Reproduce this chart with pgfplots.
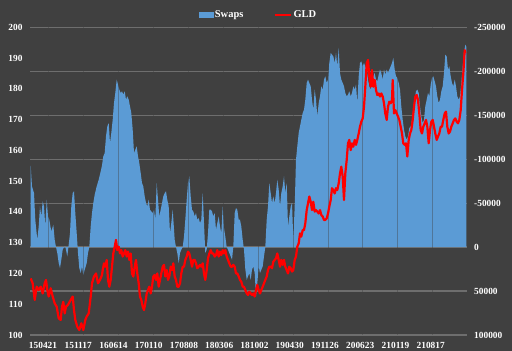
\documentclass[border=0pt]{standalone}
\usepackage{fontspec}
\setmainfont{Liberation Serif}
\usepackage{pgfplots}
\usepackage{pgfplotstable}
\pgfplotsset{compat=1.18}
\definecolor{bg}{HTML}{404040}
\definecolor{gridc}{HTML}{6E6E6E}
\definecolor{swapblue}{HTML}{5B9BD5}
\definecolor{gldred}{HTML}{FF0000}

\pgfplotstableread{
x y
30.7 0
30.7 -92600
32.0 -69100
34.0 -61500
35.3 -31100
37.3 -8300
38.7 -23500
40.0 -46300
41.3 -34900
42.7 -52000
44.0 -46300
45.3 -23500
46.7 -53900
48.0 -34900
49.3 -31100
51.3 -17800
53.3 -25400
54.7 -8300
56.0 0
57.3 6800
58.7 18200
60.0 23900
61.3 14400
62.7 3000
64.0 0
65.3 -800
67.3 10600
68.7 -2700
70.0 -15900
71.3 -46300
72.7 -61500
74.0 -63400
75.3 -38700
76.7 -15900
78.0 6800
79.3 23900
80.7 29600
82.0 22000
83.3 31500
84.7 25800
86.7 18200
88.0 6800
89.3 0
90.7 -23500
92.0 -38700
93.3 -50100
94.7 -59600
96.7 -69100
98.7 -76600
100.7 -86100
102.0 -93000
103.3 -103200
104.7 -107000
106.0 -126000
107.3 -137300
108.7 -141100
110.0 -118400
111.3 -129800
112.7 -144900
114.0 -163900
115.3 -175300
116.7 -190500
118.0 -184800
119.3 -179100
120.7 -175300
122.0 -177200
123.3 -173400
124.7 -177200
126.0 -167700
127.3 -171500
128.7 -167700
130.0 -160100
131.3 -152500
132.7 -133600
134.0 -107000
135.3 -110800
136.7 -114600
138.0 -103200
139.3 -95600
140.7 -84200
142.0 -72800
143.3 -69100
144.7 -57700
146.0 -50100
147.3 -46300
148.7 -53900
150.0 -42500
151.3 -40600
152.7 -38700
154.0 -42500
155.3 -31100
156.7 -72800
158.0 -53900
159.3 -34900
160.7 -42500
162.0 -50100
163.3 -57700
164.7 -61500
166.0 -63400
167.3 -53900
168.7 -46300
170.0 -15900
171.3 -27300
172.7 -42500
174.7 -8300
176.0 0
177.3 6800
178.7 18200
180.0 6800
181.3 3000
182.7 0
184.0 -12100
185.3 -31100
186.7 -53900
188.0 -72800
189.3 -80400
190.7 -57700
192.0 -42500
193.3 -40600
194.7 -34900
196.0 -38700
197.3 -31100
198.7 -33000
200.0 -27300
201.3 -31100
202.7 -61500
204.0 -27300
205.3 6800
206.7 3000
208.0 -15900
209.3 -42500
210.7 -42500
212.0 -40600
213.3 -34900
214.7 -38700
216.0 -19700
217.3 -27300
218.7 -34900
220.0 -23500
221.3 -15900
222.7 -46300
224.0 -21600
225.3 -12100
226.7 0
228.0 3000
229.3 6800
230.7 10600
232.0 14400
233.3 0
234.7 -38700
236.0 -44400
237.3 -42500
238.7 -31100
240.0 -31100
241.3 -23500
242.7 -8300
244.0 3000
245.3 25000
246.7 37200
248.0 33400
249.3 29600
250.7 37200
252.0 25800
253.3 22000
254.7 29600
256.0 56200
257.3 41000
258.7 22000
260.0 29600
261.3 25800
262.7 22000
264.0 10600
265.3 0
266.7 -31100
268.0 -46300
269.3 -72800
270.7 -61500
272.0 -50100
273.3 -57700
274.7 -50100
276.0 -61500
277.3 -76600
278.7 -65300
280.0 -46300
281.3 -61500
282.7 -69100
284.0 -80400
285.3 -61500
286.7 -72800
288.0 -23500
289.3 -34900
290.7 -46300
292.0 -50100
293.3 -8300
294.7 -46300
296.0 -99400
297.3 -114600
298.7 -129800
300.0 -137300
301.3 -144900
302.7 -152500
304.0 -156300
305.3 -167700
306.7 -186700
308.0 -190500
309.3 -186700
310.7 -182900
312.0 -167700
313.3 -156300
314.7 -179100
316.0 -167700
317.3 -148700
318.7 -163900
320.0 -171500
321.3 -182900
322.7 -179100
324.0 -190500
325.3 -194300
326.7 -186700
328.0 -190500
329.3 -209400
330.7 -220800
332.0 -218900
333.3 -217000
334.7 -209400
336.0 -220800
337.3 -205600
338.7 -226500
340.0 -198000
341.3 -190500
342.7 -186700
344.0 -182900
345.3 -175300
346.7 -171500
348.0 -173400
349.3 -177200
350.7 -171500
352.0 -175300
353.3 -182900
354.7 -179100
356.0 -184800
357.3 -163900
358.7 -194300
360.0 -209400
361.3 -211300
362.7 -205600
364.0 -209400
365.3 -205600
366.7 -201800
368.0 -190500
369.3 -182900
370.7 -179100
372.0 -190500
373.3 -194300
374.7 -198000
376.0 -190500
377.3 -188600
378.7 -196200
380.0 -201800
381.3 -198000
382.7 -190500
384.0 -201800
385.3 -196200
386.7 -201800
388.0 -198000
389.3 -201800
390.7 -205600
392.0 -209400
393.3 -215100
394.7 -201800
396.0 -194300
397.3 -192400
398.7 -186700
400.0 -179100
401.3 -160100
402.7 -144900
404.0 -133600
405.3 -126000
406.7 -122200
408.0 -126000
409.3 -135400
410.7 -137300
412.0 -144900
413.3 -156300
414.7 -167700
416.0 -177200
417.3 -179100
418.7 -175300
420.0 -160100
421.3 -148700
422.7 -141100
424.0 -144900
425.3 -160100
426.7 -167700
428.0 -175300
429.3 -171500
430.7 -184800
432.0 -192400
433.3 -194300
434.7 -188600
436.0 -182900
437.3 -171500
438.7 -163900
440.0 -167700
441.3 -177200
442.7 -182900
444.0 -198000
445.3 -218900
446.7 -217000
448.0 -201800
449.3 -205600
450.7 -194300
452.0 -186700
453.3 -182900
454.7 -190500
456.0 -182900
457.3 -171500
458.7 -167700
460.0 -171500
461.3 -186700
462.7 -205600
464.0 -220800
465.3 -230300
466.3 -228000
466.3 0
}\swaps

\pgfplotstableread{
x y
30.7 118.4
32.7 116.8
34.7 111.4
36.7 115.7
38.7 114.6
40.7 115.7
42.7 113.5
44.7 116.8
46.0 117.9
47.3 114.6
48.7 112.5
50.7 115.2
52.7 112.5
54.7 110.3
56.7 109.2
58.7 105.4
60.7 104.9
62.0 109.2
63.3 110.8
64.7 107.0
66.0 109.2
68.0 109.8
70.7 111.4
72.7 112.5
74.0 108.1
75.3 104.9
77.3 102.7
79.3 101.6
81.3 103.8
83.3 101.6
85.3 104.9
86.7 106.0
88.7 107.0
90.7 112.5
92.0 116.8
94.0 119.0
96.0 120.0
98.0 116.8
100.0 117.9
102.0 119.5
102.7 121.1
104.0 123.3
105.3 122.2
106.7 124.4
108.0 117.9
109.3 115.7
110.7 117.9
112.0 122.2
113.3 126.5
114.7 128.7
116.0 130.9
117.3 127.6
118.7 128.7
120.0 126.5
121.3 127.6
122.7 125.5
124.0 126.5
125.3 127.6
126.7 125.5
128.0 127.1
129.3 124.4
130.7 126.5
132.0 120.0
133.3 119.0
134.7 122.2
136.0 124.4
137.3 120.0
138.7 116.8
140.0 112.5
141.3 111.4
142.7 109.2
144.0 108.1
145.3 110.3
146.7 113.5
148.0 114.6
149.3 115.7
150.7 113.5
152.0 115.7
153.3 119.0
154.7 119.5
156.0 117.9
157.3 120.0
158.7 115.7
160.0 117.9
161.3 120.0
162.7 122.2
164.0 122.8
165.3 119.0
166.7 121.1
168.0 117.9
169.3 119.0
170.7 122.2
172.0 121.1
173.3 123.3
174.7 119.0
176.0 117.9
177.3 115.7
178.7 115.7
180.0 116.8
181.3 120.0
182.7 122.2
184.0 122.2
185.3 124.4
186.7 125.5
188.0 127.1
189.3 126.5
190.7 124.4
192.0 122.2
193.3 124.4
194.7 124.4
196.0 123.3
197.3 121.7
198.7 122.2
200.0 122.8
201.3 122.2
202.7 123.3
204.0 120.0
205.3 117.9
206.7 121.1
208.0 124.9
209.3 126.5
210.7 127.6
212.0 126.5
213.3 126.5
214.7 125.5
216.0 126.0
217.3 127.6
218.7 125.5
220.0 127.1
221.3 126.0
222.7 127.6
224.0 126.5
225.3 127.6
226.7 125.5
228.0 124.4
229.3 123.3
230.7 122.2
232.0 122.2
233.3 122.8
234.7 122.2
236.0 120.0
237.3 120.0
238.7 119.0
240.0 117.9
241.3 117.3
242.7 115.7
244.0 115.7
245.3 114.6
246.7 113.5
248.0 113.0
249.3 114.1
250.7 113.5
252.0 113.0
253.3 113.5
254.7 112.5
256.0 114.6
257.3 116.3
258.7 114.6
260.0 113.5
261.3 114.6
262.7 115.7
264.0 116.8
265.3 117.9
266.7 119.0
268.0 121.1
269.3 122.2
270.7 122.2
272.0 121.7
273.3 123.8
274.7 124.4
276.0 124.9
277.3 126.5
278.7 124.4
280.0 122.2
281.3 124.4
282.7 122.8
284.0 124.4
285.3 122.2
286.7 121.1
288.0 120.0
289.3 122.2
290.7 121.7
292.0 120.6
293.3 121.1
294.7 124.4
296.0 125.5
297.3 128.7
298.7 129.8
300.0 133.0
301.3 132.0
302.7 134.1
304.0 134.1
305.3 136.3
306.7 140.6
308.0 142.8
309.3 145.0
310.7 143.3
312.0 140.6
313.3 143.3
314.7 140.1
316.0 140.6
317.3 140.1
318.7 139.5
320.0 140.6
321.3 139.0
322.7 138.5
324.0 137.4
325.3 137.4
326.7 137.9
328.0 139.5
329.3 141.7
330.7 143.9
332.0 147.7
333.3 147.1
334.7 146.0
336.0 147.7
337.3 147.1
338.7 149.3
340.0 152.5
341.3 154.7
342.7 151.5
344.0 143.9
345.3 152.5
346.7 156.9
348.0 162.3
349.3 163.4
350.7 160.1
352.0 162.3
353.3 161.2
354.7 163.4
356.0 161.8
357.3 163.4
358.7 165.5
360.0 167.7
361.3 169.3
362.7 170.4
364.0 174.2
365.3 180.7
366.7 188.3
368.0 189.4
369.3 184.0
370.7 180.7
372.0 186.1
373.3 180.7
374.7 182.9
376.0 179.6
377.3 178.0
378.7 178.5
380.0 177.5
381.3 178.5
382.7 177.5
384.0 175.3
385.3 172.0
386.7 169.9
388.0 174.2
389.3 175.8
390.7 175.3
392.0 176.4
392.7 182.9
394.0 172.0
395.3 173.1
396.7 172.0
398.0 171.0
399.3 169.9
400.7 167.7
402.0 165.5
403.3 162.3
404.7 161.8
406.0 162.3
407.3 158.0
408.7 163.4
410.0 165.5
411.3 166.6
412.7 169.9
414.0 174.2
415.3 177.5
416.7 178.0
418.0 176.4
419.3 172.0
420.7 166.6
422.0 165.5
423.3 167.7
424.7 168.8
426.0 169.9
427.3 167.7
428.7 162.3
430.0 166.6
431.3 169.3
432.7 169.9
434.0 167.7
435.3 165.5
436.7 163.4
438.0 164.5
439.3 165.5
440.7 167.7
442.0 167.7
443.3 169.9
444.7 172.0
446.0 172.6
447.3 167.7
448.7 165.5
450.0 166.1
451.3 167.7
452.7 168.8
454.0 169.9
455.3 170.4
456.7 169.3
458.0 168.8
459.3 169.9
460.7 173.1
462.0 179.6
463.3 185.0
464.7 192.6
465.3 191.6
}\gld

\begin{document}
\begin{tikzpicture}
\fill[bg] (-30bp,-16bp) rectangle (482bp,335bp);
\useasboundingbox (-30bp,-16bp) rectangle (482bp,335bp);
\begin{axis}[
  at={(0,0)}, anchor=south west,
  scale only axis, width=436.7bp, height=307.7bp,
  xmin=30, xmax=466.7,
  ymin=-250000, ymax=100000, y dir=reverse,
  scaled y ticks=false, scaled x ticks=false,
  axis y line*=right, axis x line*=bottom,
  axis line style={draw=none},
  ytick={-250000,-200000,-150000,-100000,-50000,0,50000,100000},
  yticklabels={-250000,-200000,-150000,-100000,-50000,0,50000,100000},
  ymajorgrids, grid style={gridc, line width=1.2bp},
  xtick={43,78.2,113.5,148.7,184,219.2,254.5,289.7,325,360.2,395.5,430.7},
  xticklabels={150421,151117,160614,170110,170808,180306,181002,190430,191126,200623,210119,210817},
  major tick length=0pt, tick style={draw=none},
  ticklabel style={font=\bfseries\fontsize{9.4}{10}\selectfont, text=white},
  yticklabel style={anchor=west, xshift=4bp},
  xticklabel style={yshift=-3.5bp},
]
\addplot[fill=swapblue, draw=none] table[x=x, y=y] {\swaps};
\pgfplotsinvokeforeach{48.7,83.6,118.5,153.4,188.3,223.2,258.1,293.0,327.9,362.8,397.7,432.6}{
  \draw[bg, opacity=0.4, line width=0.8bp] (axis cs:#1,-250000) -- (axis cs:#1,100000);
}
\end{axis}
\begin{axis}[
  at={(0,0)}, anchor=south west,
  scale only axis, width=436.7bp, height=307.7bp,
  xmin=30, xmax=466.7,
  ymin=100, ymax=200,
  axis y line*=left, axis x line=none,
  axis line style={draw=none},
  ytick={100,110,120,130,140,150,160,170,180,190,200},
  yticklabels={100,110,120,130,140,150,160,170,180,190,200},
  major tick length=0pt, tick style={draw=none},
  ticklabel style={font=\bfseries\fontsize{9.4}{10}\selectfont, text=white},
  yticklabel style={anchor=east, xshift=-4bp},
  legend columns=2,
  legend style={draw=none, fill=none, text=white,
    font=\bfseries\fontsize{10.5}{12}\selectfont,
    at={(0.523,1.04)}, anchor=center,
    /tikz/every even column/.append style={column sep=28bp}},
]
\addlegendimage{legend image code/.code={\fill[swapblue] (0bp,-2.7bp) rectangle (14bp,2.7bp);}}
\addlegendentry{Swaps}
\addplot[gldred, line width=2.2bp, line join=round,
  legend image code/.code={\draw[gldred, line width=2.2bp] (0bp,0bp) -- (16bp,0bp);}]
  table[x=x, y=y] {\gld};
\addlegendentry{GLD}
\end{axis}
\end{tikzpicture}
\end{document}
